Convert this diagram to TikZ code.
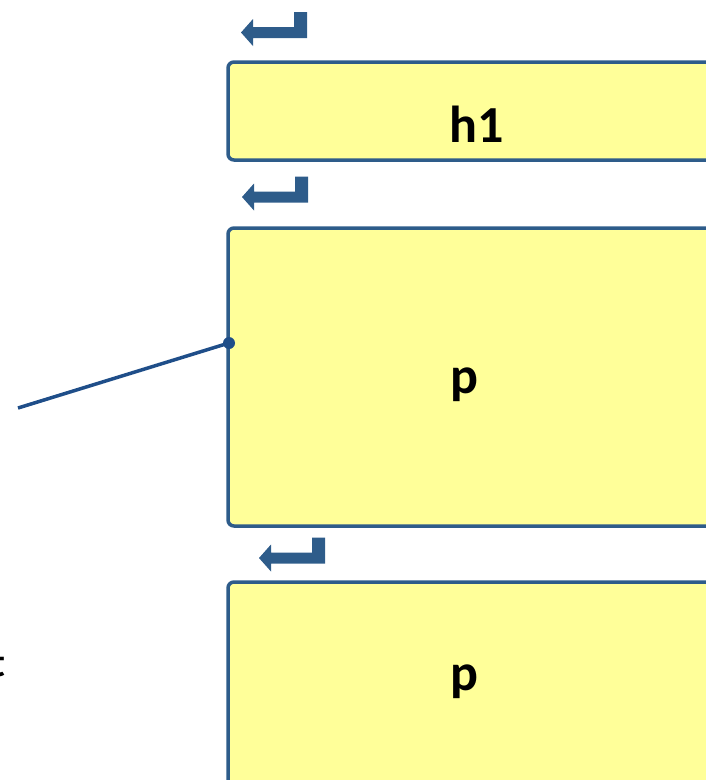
\documentclass[tikz,border=0pt]{standalone}
\usepackage{fontspec}
\setmainfont{Carlito}
\usetikzlibrary{positioning}
\definecolor{boxfill}{RGB}{255,255,153}
\definecolor{boxline}{RGB}{46,92,138}
\definecolor{wire}{RGB}{31,78,137}
\begin{document}
\begin{tikzpicture}[x=1pt,y=-1pt]
  \tikzstyle{block}=[draw=boxline,fill=boxfill,line width=3.5pt,rounded corners=6pt,inner sep=0pt]
  \tikzstyle{tag}=[font=\fontsize{52}{52}\selectfont\bfseries,anchor=base,inner sep=0pt]
  \tikzstyle{retarrow}=[fill=boxline]
  \useasboundingbox (0,0) rectangle (706,780);
  \foreach \name/\top/\bot/\txt/\x/\base in {h1/62/160/h1/477/142, p1/228/526/p/464/393, p2/582/840/p/464/690}{
    \pgfmathsetmacro{\ymid}{(\top+\bot)/2}
    \pgfmathsetmacro{\boxh}{\bot-\top}
    \node[block,minimum width=532pt,minimum height=\boxh pt] (B-\name) at (494,\ymid) {};
    \node[tag] (\name) at (\x,\base) {\txt};
  }
  \foreach \n/\x/\y in {1/241/32.5, 2/242/197, 3/259/558}
    \fill[retarrow,shift={(\x,\y)}] (0,0) -- (12,-13.5) -- (12,-5.5) -- (53,-5.5) -- (53,-20.5)
      -- (66,-20.5) -- (66,5.5) -- (12,5.5) -- (12,13.5) -- cycle;
  \coordinate (lead) at (18,408);
  \node[circle,fill=wire,inner sep=0pt,minimum size=12pt] (pin) at (229,343) {};
  \draw[wire,line width=3.5pt] (lead) -- (pin.center);
  \node[font=\fontsize{40}{40}\selectfont\bfseries,anchor=base east,inner sep=0pt] (cut) at (6,676) {t};
\end{tikzpicture}
\end{document}
